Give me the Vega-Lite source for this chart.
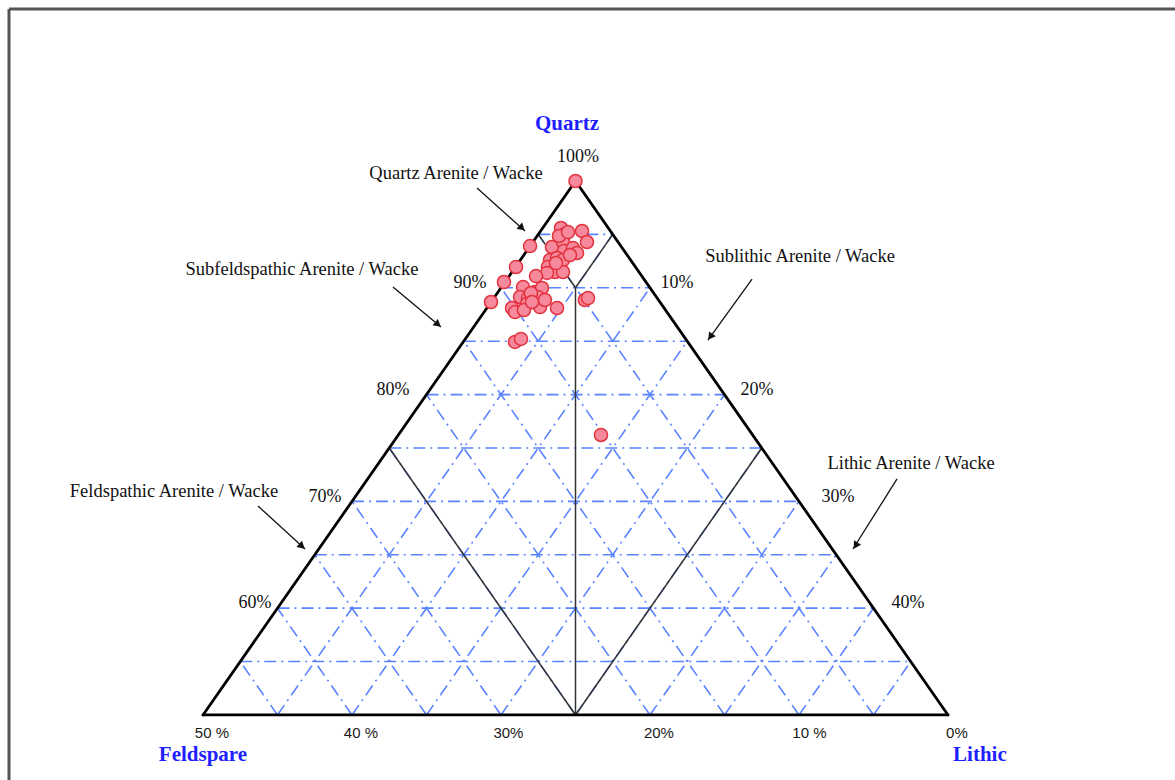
{
  "$schema": "https://vega.github.io/schema/vega-lite/v6.json",
  "width": 1175,
  "height": 780,
  "autosize": "none",
  "padding": 0,
  "background": "white",
  "config": {"view": {"stroke": null}},
  "datasets": {
    "grid": [
      {"x": -22.5, "y": 55, "x2": 22.5, "y2": 55},
      {"x": -20, "y": 60, "x2": 20, "y2": 60},
      {"x": -17.5, "y": 65, "x2": 17.5, "y2": 65},
      {"x": -15, "y": 70, "x2": 15, "y2": 70},
      {"x": -12.5, "y": 75, "x2": 12.5, "y2": 75},
      {"x": -10, "y": 80, "x2": 10, "y2": 80},
      {"x": -7.5, "y": 85, "x2": 7.5, "y2": 85},
      {"x": -5, "y": 90, "x2": 5, "y2": 90},
      {"x": -2.5, "y": 95, "x2": 2.5, "y2": 95},
      {"x": 20, "y": 50, "x2": -2.5, "y2": 95},
      {"x": 15, "y": 50, "x2": -5, "y2": 90},
      {"x": 10, "y": 50, "x2": -7.5, "y2": 85},
      {"x": 5, "y": 50, "x2": -10, "y2": 80},
      {"x": 0, "y": 50, "x2": -12.5, "y2": 75},
      {"x": -5, "y": 50, "x2": -15, "y2": 70},
      {"x": -10, "y": 50, "x2": -17.5, "y2": 65},
      {"x": -15, "y": 50, "x2": -20, "y2": 60},
      {"x": -20, "y": 50, "x2": -22.5, "y2": 55},
      {"x": -20, "y": 50, "x2": 2.5, "y2": 95},
      {"x": -15, "y": 50, "x2": 5, "y2": 90},
      {"x": -10, "y": 50, "x2": 7.5, "y2": 85},
      {"x": -5, "y": 50, "x2": 10, "y2": 80},
      {"x": 0, "y": 50, "x2": 12.5, "y2": 75},
      {"x": 5, "y": 50, "x2": 15, "y2": 70},
      {"x": 10, "y": 50, "x2": 17.5, "y2": 65},
      {"x": 15, "y": 50, "x2": 20, "y2": 60},
      {"x": 20, "y": 50, "x2": 22.5, "y2": 55}
    ],
    "fields": [
      {"x": -2.5, "y": 95, "x2": 0, "y2": 90},
      {"x": 2.5, "y": 95, "x2": 0, "y2": 90},
      {"x": 0, "y": 90, "x2": 0, "y2": 50},
      {"x": -12.5, "y": 75, "x2": 0, "y2": 50},
      {"x": 12.5, "y": 75, "x2": 0, "y2": 50}
    ],
    "outline": [
      {"x": -25, "y": 50, "x2": 0, "y2": 100},
      {"x": 0, "y": 100, "x2": 25, "y2": 50},
      {"x": -25, "y": 50, "x2": 25, "y2": 50}
    ],
    "frame": [
      {"x": -38.02, "y": 116.1, "x2": 40.3, "y2": 116.1},
      {"x": -38.02, "y": 116.1, "x2": -38.02, "y2": 43.9}
    ],
    "arrows": [
      {"x": -6.61, "y": 99.34, "x2": -3.39, "y2": 95.32, "hx": -3.59, "hy": 95.6, "angle": 132},
      {"x": -12.25, "y": 90.07, "x2": -9.03, "y2": 86.33, "hx": -9.23, "hy": 86.57, "angle": 130},
      {"x": 11.85, "y": 90.82, "x2": 8.89, "y2": 85.11, "hx": 9.05, "hy": 85.41, "angle": 216},
      {"x": -21.31, "y": 69.57, "x2": -18.15, "y2": 65.54, "hx": -18.36, "hy": 65.8, "angle": 132},
      {"x": 21.58, "y": 72.1, "x2": 18.62, "y2": 65.54, "hx": 18.8, "hy": 65.86, "angle": 212}
    ],
    "classes": [
      {"x": -8.02, "y": 100.75, "label": "Quartz Arenite / Wacke"},
      {"x": -18.36, "y": 91.76, "label": "Subfeldspathic Arenite / Wacke"},
      {"x": 15.07, "y": 92.98, "label": "Sublithic Arenite / Wacke"},
      {"x": 22.52, "y": 73.6, "label": "Lithic Arenite / Wacke"},
      {"x": -26.95, "y": 70.97, "label": "Feldspathic Arenite / Wacke"}
    ],
    "edgeTicks": [
      {"x": 0.17, "y": 102.25, "label": "100%"},
      {"x": -7.08, "y": 90.45, "label": "90%"},
      {"x": -12.25, "y": 80.43, "label": "80%"},
      {"x": -16.81, "y": 70.41, "label": "70%"},
      {"x": -21.51, "y": 60.49, "label": "60%"},
      {"x": 6.81, "y": 90.45, "label": "10%"},
      {"x": 12.18, "y": 80.43, "label": "20%"},
      {"x": 17.62, "y": 70.41, "label": "30%"},
      {"x": 22.32, "y": 60.49, "label": "40%"}
    ],
    "bottomTicks": [
      {"x": -24.4, "y": 48.31, "label": "50 %"},
      {"x": -14.4, "y": 48.31, "label": "40 %"},
      {"x": -4.5, "y": 48.31, "label": "30%"},
      {"x": 5.6, "y": 48.31, "label": "20%"},
      {"x": 15.7, "y": 48.31, "label": "10 %"},
      {"x": 25.6, "y": 48.31, "label": "0%"}
    ],
    "titles": [
      {"x": -0.57, "y": 105.34, "label": "Quartz"},
      {"x": -25.0, "y": 46.25, "label": "Feldspare"},
      {"x": 27.14, "y": 46.25, "label": "Lithic"}
    ],
    "samples": [
      {"x": 0, "y": 100},
      {"x": -0.97, "y": 95.6},
      {"x": -0.7, "y": 95.04},
      {"x": 0.44, "y": 95.32},
      {"x": 0.77, "y": 94.29},
      {"x": -1.58, "y": 93.82},
      {"x": -0.84, "y": 94.29},
      {"x": -0.77, "y": 93.45},
      {"x": -0.17, "y": 93.73},
      {"x": 0.1, "y": 93.26},
      {"x": -3.05, "y": 93.91},
      {"x": -1.71, "y": 92.6},
      {"x": -1.24, "y": 92.79},
      {"x": -0.84, "y": 92.6},
      {"x": -0.37, "y": 93.07},
      {"x": -3.99, "y": 91.95},
      {"x": -1.85, "y": 91.95},
      {"x": -1.38, "y": 91.48},
      {"x": -0.84, "y": 91.48},
      {"x": -1.91, "y": 91.39},
      {"x": -4.8, "y": 90.54},
      {"x": -2.65, "y": 91.1},
      {"x": -3.52, "y": 90.07},
      {"x": -2.72, "y": 89.61},
      {"x": -2.25, "y": 89.98},
      {"x": -3.72, "y": 89.14},
      {"x": -3.19, "y": 89.04},
      {"x": -2.52, "y": 89.14},
      {"x": -5.67, "y": 88.67},
      {"x": -4.26, "y": 88.11},
      {"x": -4.06, "y": 87.73},
      {"x": -3.26, "y": 88.48},
      {"x": -2.38, "y": 88.2},
      {"x": -1.24, "y": 88.11},
      {"x": 0.63, "y": 88.86},
      {"x": 0.84, "y": 89.04},
      {"x": -4.06, "y": 84.93},
      {"x": -3.66, "y": 85.21},
      {"x": 1.71, "y": 76.22},
      {"x": -2.99, "y": 89.51},
      {"x": -2.05, "y": 88.86},
      {"x": -3.46, "y": 87.92},
      {"x": -2.92, "y": 88.67},
      {"x": -1.11, "y": 94.85},
      {"x": -0.5, "y": 95.22},
      {"x": -1.31, "y": 92.32}
    ]
  },
  "layer": [
    {
      "data": {"name": "grid"},
      "mark": {"type": "rule", "color": "#5a84ff", "strokeWidth": 1.6, "strokeDash": [12, 5, 2, 5]},
      "encoding": {
        "x": {"field": "x", "type": "quantitative", "scale": {"domain": [-38.624, 40.235], "nice": false, "zero": false}, "axis": null},
        "y": {"field": "y", "type": "quantitative", "scale": {"domain": [43.91, 116.95], "nice": false, "zero": false}, "axis": null},
        "x2": {"field": "x2"},
        "y2": {"field": "y2"}
      }
    },
    {
      "data": {"name": "fields"},
      "mark": {"type": "rule", "color": "#333333", "strokeWidth": 1.5},
      "encoding": {
        "x": {"field": "x", "type": "quantitative"},
        "y": {"field": "y", "type": "quantitative"},
        "x2": {"field": "x2"},
        "y2": {"field": "y2"}
      }
    },
    {
      "data": {"name": "outline"},
      "mark": {"type": "rule", "color": "#000000", "strokeWidth": 2.8, "strokeCap": "round"},
      "encoding": {
        "x": {"field": "x", "type": "quantitative"},
        "y": {"field": "y", "type": "quantitative"},
        "x2": {"field": "x2"},
        "y2": {"field": "y2"}
      }
    },
    {
      "data": {"name": "frame"},
      "mark": {"type": "rule", "color": "#555555", "strokeWidth": 3},
      "encoding": {
        "x": {"field": "x", "type": "quantitative"},
        "y": {"field": "y", "type": "quantitative"},
        "x2": {"field": "x2"},
        "y2": {"field": "y2"}
      }
    },
    {
      "data": {"name": "arrows"},
      "mark": {"type": "rule", "color": "#111111", "strokeWidth": 1.3},
      "encoding": {
        "x": {"field": "x", "type": "quantitative"},
        "y": {"field": "y", "type": "quantitative"},
        "x2": {"field": "x2"},
        "y2": {"field": "y2"}
      }
    },
    {
      "data": {"name": "arrows"},
      "mark": {"type": "point", "shape": "triangle-up", "filled": true, "color": "#111111", "size": 70, "opacity": 1},
      "encoding": {
        "x": {"field": "hx", "type": "quantitative"},
        "y": {"field": "hy", "type": "quantitative"},
        "angle": {"field": "angle", "type": "quantitative", "scale": null}
      }
    },
    {
      "data": {"name": "classes"},
      "mark": {"type": "text", "font": "Liberation Serif", "fontSize": 18.5, "color": "#111111", "align": "center", "baseline": "middle"},
      "encoding": {
        "x": {"field": "x", "type": "quantitative"},
        "y": {"field": "y", "type": "quantitative"},
        "text": {"field": "label"}
      }
    },
    {
      "data": {"name": "edgeTicks"},
      "mark": {"type": "text", "font": "Liberation Serif", "fontSize": 18, "color": "#111111", "align": "center", "baseline": "middle"},
      "encoding": {
        "x": {"field": "x", "type": "quantitative"},
        "y": {"field": "y", "type": "quantitative"},
        "text": {"field": "label"}
      }
    },
    {
      "data": {"name": "bottomTicks"},
      "mark": {"type": "text", "font": "Liberation Sans", "fontSize": 15, "fontWeight": 500, "color": "#1a1a1a", "align": "center", "baseline": "middle"},
      "encoding": {
        "x": {"field": "x", "type": "quantitative"},
        "y": {"field": "y", "type": "quantitative"},
        "text": {"field": "label"}
      }
    },
    {
      "data": {"name": "titles"},
      "mark": {"type": "text", "font": "Liberation Serif", "fontSize": 21, "fontWeight": "bold", "color": "#1f1fff", "align": "center", "baseline": "middle"},
      "encoding": {
        "x": {"field": "x", "type": "quantitative"},
        "y": {"field": "y", "type": "quantitative"},
        "text": {"field": "label"}
      }
    },
    {
      "data": {"name": "samples"},
      "mark": {"type": "circle", "size": 172, "fill": "#f7899d", "stroke": "#e2333f", "strokeWidth": 1.5, "opacity": 1},
      "encoding": {
        "x": {"field": "x", "type": "quantitative"},
        "y": {"field": "y", "type": "quantitative"}
      }
    }
  ]
}
